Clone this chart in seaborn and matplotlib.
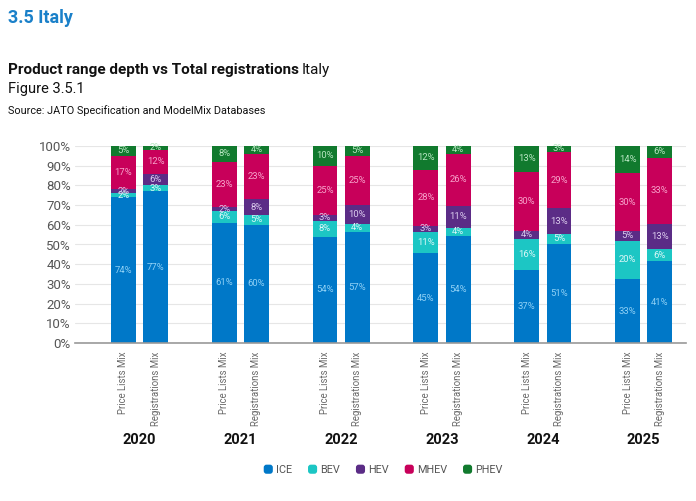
import matplotlib
matplotlib.use("Agg")
import matplotlib.pyplot as plt
import numpy as np
import pandas as pd
import seaborn as sns
from matplotlib.patches import FancyBboxPatch
from matplotlib.legend_handler import HandlerPatch

sns.set_style("white")
plt.rcParams["font.family"] = ["Roboto", "DejaVu Sans"]

# Data (labelled percentages)
years = ["2020", "2021", "2022", "2023", "2024", "2025"]
mixes = ["Price Lists Mix", "Registrations Mix"]
series = ["ICE", "BEV", "HEV", "MHEV", "PHEV"]

ice_price = [74, 61, 54, 45, 37, 33]
ice_reg = [77, 60, 57, 54, 51, 41]
bev_price = [2, 6, 8, 11, 16, 20]
bev_reg = [3, 5, 4, 4, 5, 6]
hev_price = [2, 2, 3, 3, 4, 5]
hev_reg = [6, 8, 10, 11, 13, 13]
mhev_price = [17, 23, 25, 28, 30, 30]
mhev_reg = [12, 23, 25, 26, 29, 33]
phev_price = [5, 8, 10, 12, 13, 14]
phev_reg = [2, 4, 5, 4, 3, 6]

colors = ["#0078c8", "#1cc6c4", "#5b2c86", "#c8005a", "#117a2e"]
label_colors = ["#8fd0f5", "#d9f7f7", "#dccdee", "#f7a3cb", "#b8e6c2"]

rows = []
price = [ice_price, bev_price, hev_price, mhev_price, phev_price]
reg = [ice_reg, bev_reg, hev_reg, mhev_reg, phev_reg]
for i, y in enumerate(years):
    for mix, vals in zip(mixes, [price, reg]):
        for s, v in zip(series, vals):
            rows.append({"year": y, "mix": mix, "series": s, "value": v[i]})
df = pd.DataFrame(rows)
# bars are drawn as share of 100% (labels are rounded)
df["share"] = df["value"] / df.groupby(["year", "mix"])["value"].transform("sum") * 100
df["top"] = df.groupby(["year", "mix"])["share"].cumsum()
df["bottom"] = df["top"] - df["share"]

fig = plt.figure(figsize=(6.96, 5.01), dpi=100)
ax = fig.add_axes([75 / 696, 1 - 343 / 501, (686 - 75) / 696, (343 - 146) / 501])

# stacked bars: draw cumulative tops from the highest series down
for s, c in reversed(list(zip(series, colors))):
    sub = df[df["series"] == s]
    sns.barplot(data=sub, x="year", y="top", hue="mix", order=years, hue_order=mixes,
                palette={m: c for m in mixes}, width=0.64, gap=0.23,
                saturation=1, legend=False, errorbar=None, ax=ax, linewidth=0)

# segment labels
for s, lc in zip(series, label_colors):
    sub = df[df["series"] == s]
    for _, r in sub.iterrows():
        xi = years.index(r["year"]) + (-0.16 if r["mix"] == mixes[0] else 0.16)
        ax.text(xi, (r["bottom"] + r["top"]) / 2, f"{r['value']}%", ha="center",
                va="center", fontsize=6.8, color=lc)

ax.set_ylim(0, 100)
ax.set_xlim(-0.64, 5.42)
ax.set_yticks(np.arange(0, 101, 10))
ax.set_yticklabels([f"{v}%" for v in range(0, 101, 10)], fontsize=9.5, color="#555555")
ax.yaxis.grid(True, color="#e6e6e6", linewidth=0.8)
ax.set_axisbelow(True)
ax.tick_params(axis="y", length=0, pad=3)
ax.set_xticks([])
ax.set_xlabel("")
ax.set_ylabel("")
for sp in ["top", "right", "left"]:
    ax.spines[sp].set_visible(False)
ax.spines["bottom"].set_color("#999999")
ax.spines["bottom"].set_linewidth(1.2)

# x labels: mix names rotated, years bold
for i, y in enumerate(years):
    for off, m in zip([-0.16, 0.16], mixes):
        ax.text(i + off, -4.5, m, rotation=90, ha="center", va="top", fontsize=6.9,
                color="#6a6a6a")
    ax.text(i, -49, y, ha="center", va="center", fontsize=10.5, fontweight="bold",
            color="#111111")

# headings
fig.text(8 / 696, 1 - 18 / 501, "3.5 Italy", fontsize=13, fontweight="bold",
         color="#1a80c9", va="center")
t = fig.text(8 / 696, 1 - 70 / 501, "Product range depth vs Total registrations",
             fontsize=11, fontweight="bold", color="#111111", va="center")
fig.canvas.draw()
bb = t.get_window_extent()
fig.text(bb.x1 / 696 + 3 / 696, 1 - 70 / 501, "Italy", fontsize=11, color="#111111",
         va="center")
fig.text(8 / 696, 1 - 89 / 501, "Figure 3.5.1", fontsize=10.5, color="#111111",
         va="center")
fig.text(8 / 696, 1 - 111 / 501, "Source: JATO Specification and ModelMix Databases",
         fontsize=7.8, color="#111111", va="center")


class RoundSquare(HandlerPatch):
    def create_artists(self, legend, orig, xd, yd, w, h, fs, trans):
        s = min(w, h) * 1.2
        p = FancyBboxPatch((xd + (w - s) / 2 + 2, yd + (h - s) / 2), s, s,
                           boxstyle="round,pad=0,rounding_size=2",
                           fc=orig.get_facecolor(), ec="none", transform=trans)
        return [p]


handles = [plt.Rectangle((0, 0), 1, 1, fc=c) for c in colors]
fig.legend(handles, series, loc="center", bbox_to_anchor=(381 / 696, 1 - 470 / 501),
           ncol=5, frameon=False, fontsize=7.8, labelcolor="#555555",
           handler_map={plt.Rectangle: RoundSquare()}, handlelength=1.2,
           handletextpad=0.4, columnspacing=1.0)

fig.savefig("out.png", dpi=100)
